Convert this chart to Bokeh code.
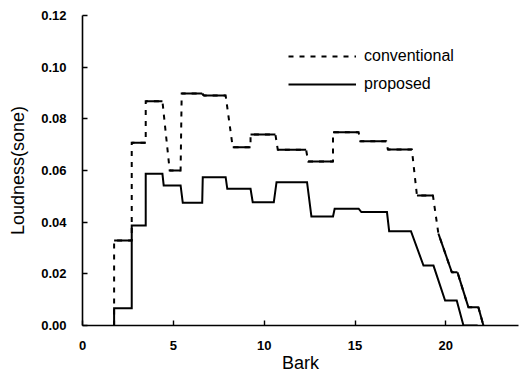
from bokeh.plotting import figure
from bokeh.models import Range1d, FixedTicker, PrintfTickFormatter, Legend, LegendItem
from bokeh.embed import file_html
from bokeh.resources import INLINE

# Loudness traces, vertex by vertex (Bark, sone)
bark_conv = [1.74, 1.74, 2.71, 2.71, 3.48, 3.48, 4.40, 4.80, 5.40, 5.46, 6.59, 6.68,
             7.88, 8.27, 9.25, 9.25, 10.62, 10.75, 12.31, 12.42, 13.79, 13.79, 15.20,
             15.29, 16.72, 16.81, 18.13, 18.41, 19.29, 19.59, 20.33, 20.64, 21.24,
             21.79, 22.07]
loud_conv = [0.0, 0.0329, 0.0329, 0.0707, 0.0707, 0.0868, 0.0868, 0.0600, 0.0600,
             0.0898, 0.0898, 0.0890, 0.0890, 0.0690, 0.0690, 0.0739, 0.0739, 0.0680,
             0.0680, 0.0635, 0.0635, 0.0748, 0.0748, 0.0713, 0.0713, 0.0681, 0.0681,
             0.0503, 0.0503, 0.0356, 0.0206, 0.0206, 0.0071, 0.0071, 0.0]

bark_prop = [1.74, 1.74, 2.71, 2.71, 3.48, 3.48, 4.40, 4.47, 5.40, 5.52, 6.59, 6.62,
             7.88, 7.97, 9.25, 9.37, 10.53, 10.68, 12.36, 12.60, 13.79, 13.88, 15.20,
             15.35, 16.76, 16.88, 18.08, 18.77, 19.32, 19.96, 20.60, 20.97, 21.75]
loud_prop = [0.0, 0.0067, 0.0067, 0.0387, 0.0387, 0.0587, 0.0587, 0.0542, 0.0542,
             0.0475, 0.0475, 0.0574, 0.0574, 0.0529, 0.0529, 0.0477, 0.0477, 0.0555,
             0.0555, 0.0422, 0.0422, 0.0452, 0.0452, 0.0439, 0.0439, 0.0365, 0.0365,
             0.0232, 0.0232, 0.0097, 0.0097, 0.0, 0.0]

x_ticks = [0, 5, 10, 15, 20]
y_ticks = [0.00, 0.02, 0.04, 0.06, 0.08, 0.10, 0.12]
series_names = ["conventional", "proposed"]

FONT = "Liberation Sans"

p = figure(width=522, height=380, output_backend="svg", toolbar_location=None,
           x_range=Range1d(0, 24), y_range=Range1d(0, 0.12),
           min_border_left=82, min_border_right=4, min_border_top=15,
           min_border_bottom=55)
p.outline_line_color = None
p.xgrid.visible = False
p.ygrid.visible = False
p.background_fill_color = "white"
p.border_fill_color = "white"

for ax in (p.xaxis[0], p.yaxis[0]):
    ax.axis_line_color = "black"
    ax.axis_line_width = 1.6
    ax.major_tick_line_color = "black"
    ax.major_tick_line_width = 1.4
    ax.major_tick_in = 5
    ax.major_tick_out = 0
    ax.minor_tick_line_color = None
    ax.major_label_text_font = FONT
    ax.major_label_text_font_size = "13px"
    ax.major_label_text_font_style = "bold"
    ax.major_label_text_color = "black"
    ax.axis_label_text_font = FONT
    ax.axis_label_text_font_size = "18px"
    ax.axis_label_text_font_style = "normal"
    ax.axis_label_text_color = "black"

p.xaxis.ticker = FixedTicker(ticks=x_ticks)
p.yaxis.ticker = FixedTicker(ticks=y_ticks)
p.yaxis.formatter = PrintfTickFormatter(format="%.2f")
p.xaxis.axis_label = "Bark"
p.yaxis.axis_label = "Loudness(sone)"
p.xaxis.major_label_standoff = 15
p.xaxis.axis_label_standoff = 0
p.yaxis.major_label_standoff = 16
p.yaxis.axis_label_standoff = 10

# conventional: dashed trace, with its flat runs drawn solid on top
r_conv = p.line(bark_conv, loud_conv, line_color="black", line_width=2,
                line_dash="5 6", line_join="miter")
flat_xs, flat_ys = [], []
for i in range(len(bark_conv) - 1):
    dx = bark_conv[i + 1] - bark_conv[i]
    dy = abs(loud_conv[i + 1] - loud_conv[i])
    if dx > 0 and dy / dx < 0.03:
        flat_xs.append([bark_conv[i], bark_conv[i + 1]])
        flat_ys.append([loud_conv[i], loud_conv[i + 1]])
p.multi_line(flat_xs, flat_ys, line_color="black", line_width=2)

# proposed: solid trace
r_prop = p.line(bark_prop, loud_prop, line_color="black", line_width=2,
                line_join="miter")

legend = Legend(items=[LegendItem(label=series_names[0], renderers=[r_conv]),
                       LegendItem(label=series_names[1], renderers=[r_prop])],
                location=(206, 232), padding=0, margin=0,
                glyph_width=68, glyph_height=18, label_height=18, spacing=10,
                label_standoff=8, label_text_font=FONT,
                label_text_font_size="16px", label_text_color="black",
                border_line_alpha=0, background_fill_alpha=0)
p.add_layout(legend)

open("out.html", "w").write(file_html(p, INLINE))
